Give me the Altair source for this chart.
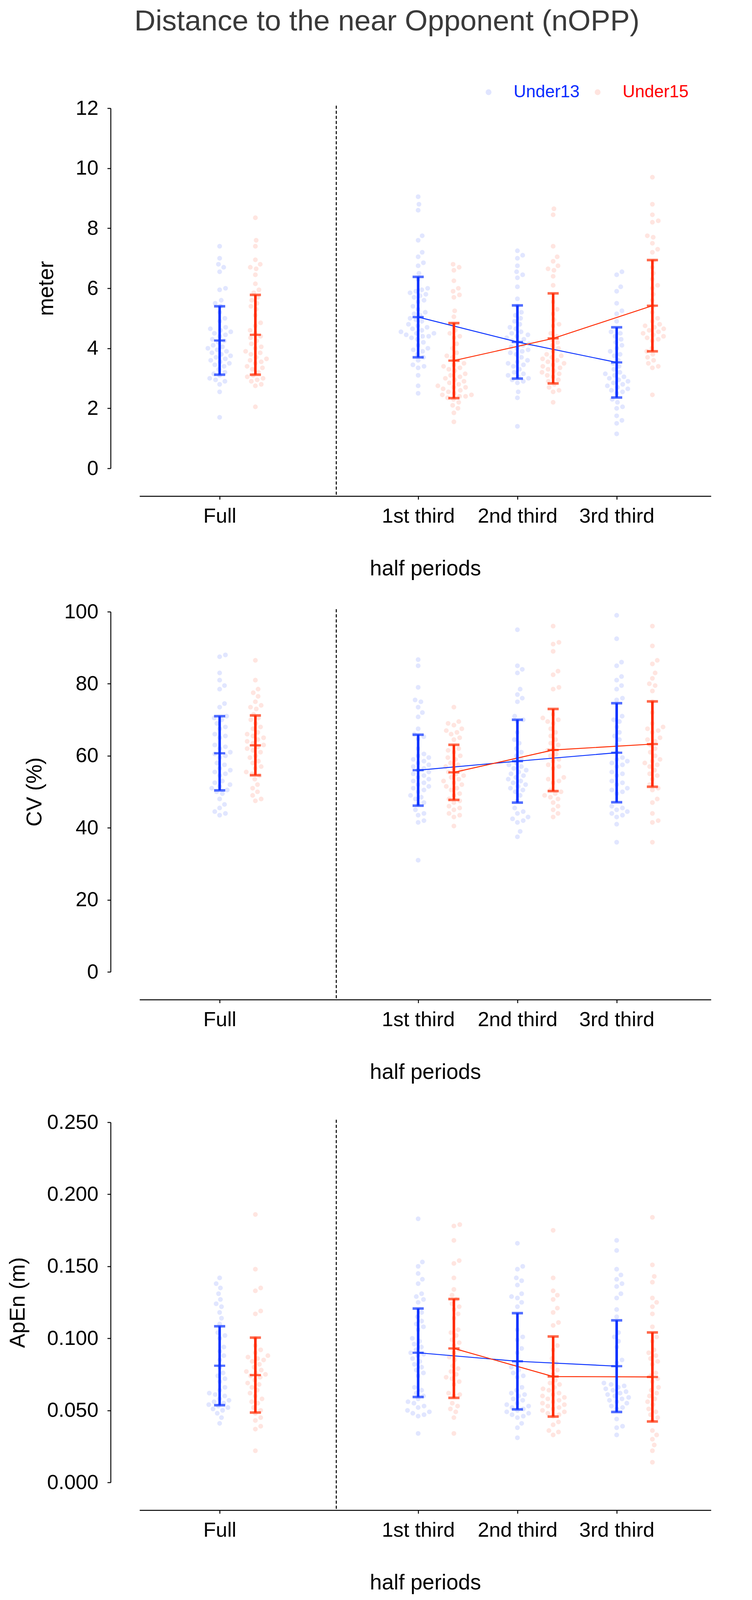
import math

import altair as alt
import pandas as pd

PERIODS = ["Full", "1st third", "2nd third", "3rd third"]
GROUPS = ["Under13", "Under15"]

# --- Distance to the near opponent (meter) ---
nopp_u13_full = [7.4, 7.0, 6.8, 6.7, 6.55, 6.0, 5.95, 5.6, 5.5, 5.4, 5.2, 5.0, 4.9, 4.7, 4.65, 4.6,
                 4.55, 4.5, 4.45, 4.4, 4.3, 4.25, 4.2, 4.1, 4.05, 4.0, 3.95, 3.9, 3.85, 3.8, 3.75,
                 3.7, 3.65, 3.6, 3.55, 3.5, 3.45, 3.4, 3.3, 3.2, 3.15, 3.1, 3.0, 2.95, 2.9, 2.8,
                 2.55, 1.7]
nopp_u13_t1 = [9.05, 8.8, 8.6, 7.75, 7.6, 7.2, 7.05, 6.85, 6.75, 6.5, 6.3, 6.0, 5.95, 5.9, 5.85,
               5.8, 5.75, 5.7, 5.6, 5.55, 5.4, 5.3, 5.2, 5.15, 5.1, 5.0, 4.95, 4.9, 4.8, 4.75, 4.7,
               4.65, 4.6, 4.55, 4.5, 4.5, 4.45, 4.4, 4.4, 4.35, 4.3, 4.2, 4.1, 4.0, 3.95, 3.9, 3.8,
               3.7, 3.6, 3.45, 3.4, 3.35, 3.1, 2.75, 2.5]
nopp_u13_t2 = [7.25, 7.1, 7.0, 6.75, 6.55, 6.45, 6.35, 6.05, 5.65, 5.4, 5.2, 5.1, 5.0, 4.9, 4.8,
               4.7, 4.65, 4.55, 4.5, 4.45, 4.4, 4.35, 4.3, 4.25, 4.2, 4.15, 4.1, 4.05, 4.0, 3.95,
               3.9, 3.85, 3.8, 3.7, 3.6, 3.55, 3.5, 3.45, 3.4, 3.3, 3.2, 3.15, 3.1, 3.05, 3.0,
               2.95, 2.9, 2.85, 2.55, 2.35, 1.4]
nopp_u13_t3 = [6.55, 6.45, 6.05, 5.9, 5.5, 5.25, 5.15, 4.9, 4.55, 4.5, 4.4, 4.3, 4.2, 4.1, 4.0,
               3.9, 3.8, 3.75, 3.6, 3.5, 3.4, 3.3, 3.2, 3.15, 3.1, 3.05, 3.0, 2.95, 2.9, 2.85,
               2.8, 2.75, 2.7, 2.65, 2.6, 2.55, 2.5, 2.3, 2.2, 2.05, 2.0, 1.75, 1.6, 1.5, 1.15]
nopp_u15_full = [8.35, 7.6, 7.4, 6.95, 6.8, 6.7, 6.65, 6.45, 6.15, 5.95, 5.85, 5.7, 5.6, 5.5, 5.4,
                 5.3, 5.1, 4.85, 4.75, 4.6, 4.5, 4.4, 4.35, 4.25, 4.15, 4.05, 4.0, 3.9, 3.85, 3.8,
                 3.7, 3.65, 3.6, 3.55, 3.5, 3.4, 3.35, 3.3, 3.2, 3.1, 3.05, 3.0, 2.95, 2.9, 2.8,
                 2.75, 2.05]
nopp_u15_t1 = [6.8, 6.7, 6.6, 6.25, 6.0, 5.9, 5.78, 5.7, 5.25, 5.05, 4.8, 4.6, 4.5, 4.4, 4.35,
               4.15, 4.0, 3.85, 3.75, 3.7, 3.6, 3.5, 3.45, 3.4, 3.35, 3.3, 3.25, 3.15, 3.1, 3.05,
               3.0, 2.95, 2.9, 2.85, 2.8, 2.75, 2.7, 2.7, 2.65, 2.6, 2.55, 2.5, 2.45, 2.45, 2.4,
               2.4, 2.35, 2.3, 2.2, 2.1, 2.0, 1.85, 1.55]
nopp_u15_t2 = [8.65, 8.45, 7.4, 7.05, 6.9, 6.75, 6.65, 6.6, 6.4, 6.1, 5.55, 5.3, 5.15, 4.95, 4.8,
               4.75, 4.5, 4.4, 4.3, 4.2, 4.1, 4.0, 3.9, 3.8, 3.75, 3.7, 3.65, 3.6, 3.55, 3.5,
               3.45, 3.4, 3.35, 3.3, 3.25, 3.2, 3.15, 3.1, 3.05, 2.95, 2.9, 2.8, 2.7, 2.6, 2.55,
               2.2]
nopp_u15_t3 = [9.7, 8.8, 8.45, 8.25, 8.2, 7.75, 7.7, 7.5, 7.3, 7.2, 6.9, 6.7, 6.5, 6.3, 6.1, 6.0,
               5.8, 5.6, 5.4, 5.2, 5.0, 4.9, 4.8, 4.75, 4.7, 4.65, 4.6, 4.55, 4.5, 4.45, 4.4,
               4.35, 4.3, 4.25, 4.0, 3.9, 3.8, 3.7, 3.6, 3.5, 3.4, 3.35, 2.45]
nopp_u13_mean = [4.26, 5.04, 4.21, 3.53]
nopp_u13_sd = [1.14, 1.34, 1.22, 1.17]
nopp_u15_mean = [4.45, 3.59, 4.33, 5.42]
nopp_u15_sd = [1.33, 1.25, 1.50, 1.52]

# --- Coefficient of variation (%) ---
cv_u13_full = [88.0, 87.5, 83.0, 81.0, 79.5, 78.5, 74.5, 73.5, 71.0, 70.5, 70.0, 69.0, 68.0, 67.5,
               66.0, 65.5, 65.0, 63.0, 62.5, 62.0, 61.0, 60.5, 60.0, 59.5, 58.0, 57.5, 56.5, 56.0,
               55.5, 55.0, 54.5, 53.0, 52.5, 52.0, 51.5, 51.0, 50.5, 50.0, 49.5, 48.0, 46.5,
               45.5, 44.5, 44.0, 43.5]
cv_u13_t1 = [86.7, 85.0, 79.0, 75.5, 75.0, 73.5, 72.0, 70.8, 67.5, 66.0, 65.3, 64.7, 62.0, 60.5,
             60.0, 59.5, 59.0, 58.5, 58.0, 57.5, 57.0, 56.5, 56.0, 55.5, 55.0, 54.5, 54.0, 53.5,
             53.0, 52.5, 52.0, 51.5, 51.0, 50.5, 50.0, 49.0, 48.5, 48.0, 47.0, 46.5, 45.0, 44.0,
             43.5, 42.0, 41.5, 31.0]
cv_u13_t2 = [95.0, 85.0, 84.0, 83.0, 78.5, 77.0, 76.0, 75.0, 71.0, 70.0, 69.5, 66.5, 64.5, 63.5,
             62.0, 61.0, 60.0, 59.0, 58.0, 57.5, 57.0, 56.5, 56.0, 55.5, 55.0, 54.5, 54.0, 53.5,
             53.0, 52.5, 52.0, 51.5, 51.0, 50.5, 50.0, 49.0, 47.5, 45.5, 44.5, 44.0, 43.0, 42.5,
             42.0, 41.5, 39.0, 37.5]
cv_u13_t3 = [99.0, 92.5, 86.0, 85.0, 82.0, 81.0, 79.5, 78.5, 76.0, 75.5, 71.0, 70.0, 69.5, 68.0,
             66.5, 65.5, 64.5, 63.0, 61.0, 59.5, 59.0, 58.5, 58.0, 57.5, 57.0, 55.5, 55.0, 54.5,
             53.0, 52.5, 52.0, 51.0, 50.5, 50.0, 49.5, 46.0, 45.5, 45.0, 44.5, 44.0, 43.5, 43.0,
             41.0, 36.0]
cv_u15_full = [86.5, 81.0, 78.5, 77.5, 76.5, 75.0, 74.0, 73.5, 73.0, 71.5, 70.5, 70.0, 69.0, 68.0,
               67.5, 66.5, 66.0, 65.5, 65.0, 64.5, 64.0, 63.5, 63.0, 62.5, 62.0, 61.5, 61.0, 60.0,
               59.5, 58.5, 58.0, 57.0, 56.5, 55.5, 55.0, 54.5, 53.5, 52.0, 51.0, 50.0, 49.0, 48.0,
               47.5]
cv_u15_t1 = [73.5, 69.5, 69.0, 68.5, 67.5, 67.0, 66.5, 66.0, 65.0, 64.5, 62.0, 61.5, 61.0, 60.0,
             59.5, 59.0, 58.0, 57.5, 57.0, 56.5, 56.0, 55.5, 55.0, 54.5, 54.0, 53.5, 53.0, 52.5,
             52.0, 51.5, 51.0, 50.5, 49.5, 49.0, 48.0, 47.5, 47.0, 46.0, 45.5, 45.0, 44.0, 43.5,
             43.0, 40.5]
cv_u15_t2 = [96.0, 91.5, 91.0, 89.0, 83.5, 82.5, 79.0, 78.5, 71.5, 70.5, 70.0, 69.5, 69.0, 67.5,
             66.5, 65.5, 64.5, 63.5, 63.0, 62.0, 61.5, 60.5, 60.0, 59.0, 58.5, 57.5, 57.0, 56.5,
             54.0, 53.5, 53.0, 52.5, 50.5, 50.0, 49.5, 49.0, 48.5, 48.0, 47.0, 46.0, 45.0, 44.0,
             43.0]
cv_u15_t3 = [96.0, 90.5, 86.5, 85.5, 83.0, 81.5, 80.0, 79.5, 78.0, 75.0, 72.0, 69.0, 68.0, 67.5,
             67.0, 66.5, 65.0, 64.5, 64.0, 63.0, 62.0, 61.0, 60.0, 59.0, 58.5, 58.0, 57.5, 57.0,
             56.0, 55.0, 54.5, 53.5, 52.0, 51.0, 50.5, 48.0, 47.0, 44.0, 42.0, 41.5, 36.0]
cv_u13_mean = [60.7, 56.0, 58.5, 60.85]
cv_u13_sd = [10.3, 9.85, 11.5, 13.75]
cv_u15_mean = [62.9, 55.4, 61.6, 63.25]
cv_u15_sd = [8.3, 7.65, 11.4, 11.85]

# --- Approximate entropy (m) ---
apen_u13_full = [0.142, 0.138, 0.135, 0.131, 0.127, 0.124, 0.122, 0.118, 0.114, 0.110, 0.104,
                 0.102, 0.100, 0.094, 0.091, 0.088, 0.085, 0.080, 0.076, 0.074, 0.072, 0.070,
                 0.066, 0.064, 0.062, 0.061, 0.060, 0.058, 0.057, 0.056, 0.055, 0.054, 0.053,
                 0.052, 0.051, 0.050, 0.048, 0.045, 0.041]
apen_u13_t1 = [0.183, 0.153, 0.150, 0.145, 0.141, 0.138, 0.131, 0.129, 0.127, 0.125, 0.118, 0.115,
               0.112, 0.110, 0.108, 0.106, 0.100, 0.098, 0.096, 0.094, 0.092, 0.090, 0.089, 0.088,
               0.086, 0.084, 0.082, 0.080, 0.078, 0.076, 0.074, 0.066, 0.064, 0.062, 0.060, 0.058,
               0.056, 0.055, 0.053, 0.052, 0.050, 0.049, 0.048, 0.047, 0.046, 0.034]
apen_u13_t2 = [0.166, 0.150, 0.148, 0.142, 0.140, 0.137, 0.131, 0.129, 0.128, 0.125, 0.122, 0.106,
               0.101, 0.099, 0.093, 0.090, 0.082, 0.080, 0.078, 0.076, 0.074, 0.073, 0.066, 0.064,
               0.062, 0.061, 0.060, 0.058, 0.057, 0.055, 0.054, 0.053, 0.052, 0.051, 0.050, 0.049,
               0.048, 0.047, 0.046, 0.045, 0.041, 0.038, 0.031]
apen_u13_t3 = [0.168, 0.161, 0.148, 0.144, 0.141, 0.138, 0.136, 0.131, 0.128, 0.120, 0.115, 0.104,
               0.101, 0.098, 0.094, 0.085, 0.083, 0.069, 0.068, 0.067, 0.066, 0.065, 0.064, 0.063,
               0.062, 0.061, 0.060, 0.059, 0.058, 0.057, 0.056, 0.055, 0.053, 0.052, 0.051, 0.044,
               0.039, 0.038, 0.033]
apen_u15_full = [0.186, 0.148, 0.135, 0.133, 0.119, 0.117, 0.100, 0.095, 0.092, 0.090, 0.088,
                 0.087, 0.086, 0.085, 0.084, 0.082, 0.080, 0.078, 0.077, 0.076, 0.075, 0.074,
                 0.073, 0.071, 0.069, 0.068, 0.066, 0.064, 0.062, 0.060, 0.058, 0.056, 0.055,
                 0.052, 0.050, 0.048, 0.045, 0.043, 0.039, 0.037, 0.022]
apen_u15_t1 = [0.179, 0.178, 0.168, 0.154, 0.152, 0.142, 0.134, 0.130, 0.127, 0.124, 0.122, 0.120,
               0.117, 0.114, 0.106, 0.104, 0.102, 0.099, 0.097, 0.095, 0.092, 0.090, 0.087, 0.085,
               0.081, 0.079, 0.077, 0.075, 0.073, 0.072, 0.070, 0.068, 0.062, 0.061, 0.060, 0.055,
               0.053, 0.051, 0.049, 0.045, 0.034]
apen_u15_t2 = [0.175, 0.142, 0.133, 0.130, 0.127, 0.121, 0.118, 0.111, 0.109, 0.095, 0.092, 0.086,
               0.083, 0.080, 0.078, 0.075, 0.071, 0.069, 0.068, 0.066, 0.065, 0.064, 0.062, 0.061,
               0.060, 0.059, 0.058, 0.057, 0.056, 0.055, 0.054, 0.053, 0.052, 0.051, 0.050, 0.049,
               0.048, 0.047, 0.046, 0.042, 0.040, 0.036, 0.035, 0.033]
apen_u15_t3 = [0.184, 0.151, 0.143, 0.139, 0.128, 0.125, 0.122, 0.117, 0.108, 0.101, 0.098, 0.092,
               0.090, 0.088, 0.086, 0.084, 0.082, 0.076, 0.074, 0.072, 0.070, 0.066, 0.064, 0.062,
               0.060, 0.058, 0.056, 0.054, 0.051, 0.049, 0.047, 0.045, 0.043, 0.036, 0.033, 0.030,
               0.026, 0.022, 0.014]
apen_u13_mean = [0.081, 0.090, 0.0841, 0.0807]
apen_u13_sd = [0.0274, 0.0307, 0.0334, 0.0318]
apen_u15_mean = [0.0745, 0.093, 0.0735, 0.0732]
apen_u15_sd = [0.026, 0.0343, 0.0278, 0.0309]

# layout
X_DOMAIN = [-0.807, 4.95]
WIDTH = 1462
HEIGHT = 922
SLOT = {"Full": 0, "1st third": 2, "2nd third": 3, "3rd third": 4}
GROUP_SHIFT = {"Under13": 0.0, "Under15": 0.36}
SEP_X = 1.175
DOT = 15.5
FONT = "Liberation Sans"
BLUE = "#0a32ff"
RED = "#ff2a00"


def swarm(values, px_per_unit, diam=DOT):
    # beeswarm: each point goes as close to the centre as it can without overlapping
    order = sorted(range(len(values)), key=lambda i: values[i])
    placed = []
    out = [0.0] * len(values)
    for i in order:
        y = values[i] * px_per_unit
        near = [(px, py) for px, py in placed if abs(py - y) < diam]
        cands = [0.0]
        for px, py in near:
            d = math.sqrt(diam ** 2 - (py - y) ** 2)
            cands += [px + d, px - d]
        cands.sort(key=abs)
        for c in cands:
            if all((c - px) ** 2 + (y - py) ** 2 >= diam ** 2 - 1e-6 for px, py in near):
                out[i] = c
                break
        placed.append((out[i], y))
    return out


def frames(samples, means, sds, ydomain):
    y_px = HEIGHT / (ydomain[1] - ydomain[0])
    x_px = WIDTH / (X_DOMAIN[1] - X_DOMAIN[0])
    pts, stats = [], []
    for group in GROUPS:
        for k, period in enumerate(PERIODS):
            base = SLOT[period] + GROUP_SHIFT[group]
            vals = samples[group][k]
            for v, off in zip(vals, swarm(vals, y_px)):
                pts.append({"period": period, "group": group, "value": v, "x": base + off / x_px})
            m, s = means[group][k], sds[group][k]
            stats.append({"period": period, "group": group, "x": base,
                          "mean": m, "lo": m - s, "hi": m + s})
    return pd.DataFrame(pts), pd.DataFrame(stats)


label_expr = " : ".join(f"datum.value == {SLOT[p]} ? '{p}'" for p in PERIODS[:-1]) + f" : '{PERIODS[-1]}'"

X_AXIS = alt.Axis(values=[SLOT[p] for p in PERIODS], labelExpr=label_expr, title="half periods",
                  offset=71, grid=False, tickSize=8.5, tickWidth=2.4, tickColor="black",
                  domainWidth=2.4, domainColor="black", labelFontSize=52.5, labelColor="black",
                  labelPadding=18, labelFont=FONT, labelFlush=False, labelLimit=0,
                  titleFont=FONT, titleFontSize=55, titleFontWeight="normal", titleColor="black",
                  titlePadding=81)

COLOR_SCALE = alt.Scale(domain=GROUPS, range=[BLUE, RED])


def panel(samples, means, sds, ydomain, yticks, yfmt, ytitle, legend=None, title=None):
    pts, stats = frames(samples, means, sds, ydomain)
    y_axis = alt.Axis(values=yticks, format=yfmt, title=ytitle, offset=74, grid=False,
                      tickSize=8.5, tickWidth=2.4, tickColor="black", domainWidth=2.4,
                      domainColor="black", labelFontSize=52.5, labelColor="black", labelPadding=23,
                      labelFont=FONT, labelLimit=0, titleFont=FONT, titleFontSize=55,
                      titleFontWeight="normal", titleColor="black", titlePadding=46)
    x_scale = alt.Scale(domain=X_DOMAIN, nice=False, zero=False)
    y_scale = alt.Scale(domain=ydomain, nice=False, zero=False)

    def xq(field="x"):
        return alt.X(f"{field}:Q", scale=x_scale, axis=X_AXIS)

    def yq(field):
        return alt.Y(f"{field}:Q", scale=y_scale, axis=y_axis)

    line_color = alt.Color("group:N", scale=COLOR_SCALE, legend=None)

    sep = alt.Chart(pd.DataFrame({"sep": [SEP_X]})).mark_rule(
        color="black", strokeWidth=2.6, strokeDash=[8, 5]
    ).encode(x=xq("sep"), y=alt.value(-6.5), y2=alt.value(HEIGHT + 70))

    dots = alt.Chart(pts).mark_circle(size=150, opacity=0.12).encode(
        x=xq(), y=yq("value"),
        color=alt.Color("group:N", scale=COLOR_SCALE, legend=legend)
    )
    trend = alt.Chart(stats[stats["period"] != "Full"]).mark_line(strokeWidth=2.4).encode(
        x=xq(), y=yq("mean"), color=line_color, detail="group:N"
    )
    bars = alt.Chart(stats).mark_rule(strokeWidth=6.5).encode(
        x=xq(), y=yq("lo"), y2="hi:Q", color=line_color
    )
    caps_lo = alt.Chart(stats).mark_tick(orient="horizontal", size=28.5, thickness=6.5).encode(
        x=xq(), y=yq("lo"), color=line_color
    )
    caps_hi = alt.Chart(stats).mark_tick(orient="horizontal", size=28.5, thickness=6.5).encode(
        x=xq(), y=yq("hi"), color=line_color
    )
    mids = alt.Chart(stats).mark_tick(orient="horizontal", size=28.5, thickness=5.7).encode(
        x=xq(), y=yq("mean"), color=line_color
    )
    chart = alt.layer(sep, dots, trend, bars, caps_lo, caps_hi, mids).properties(
        width=WIDTH, height=HEIGHT
    )
    if title is not None:
        chart = chart.properties(title=title)
    return chart


legend = alt.Legend(title=None, orient="none", legendX=871, legendY=-63, direction="horizontal",
                    labelFontSize=44, labelFont=FONT, symbolSize=180, symbolType="circle",
                    labelOffset=42, columnPadding=24, padding=0, labelLimit=0,
                    labelColor={"expr": "datum.value == 'Under13' ? '#0a2cff' : '#ff0000'"})

title = alt.TitleParams("Distance to the near Opponent (nOPP)", font=FONT, fontSize=75,
                        fontWeight="normal", color="#3a3a3a", anchor="middle", dx=-98, offset=120)

top = panel(
    {"Under13": [nopp_u13_full, nopp_u13_t1, nopp_u13_t2, nopp_u13_t3],
     "Under15": [nopp_u15_full, nopp_u15_t1, nopp_u15_t2, nopp_u15_t3]},
    {"Under13": nopp_u13_mean, "Under15": nopp_u15_mean},
    {"Under13": nopp_u13_sd, "Under15": nopp_u15_sd},
    [0, 12], list(range(0, 13, 2)), "d", "meter", legend=legend, title=title,
)
middle = panel(
    {"Under13": [cv_u13_full, cv_u13_t1, cv_u13_t2, cv_u13_t3],
     "Under15": [cv_u15_full, cv_u15_t1, cv_u15_t2, cv_u15_t3]},
    {"Under13": cv_u13_mean, "Under15": cv_u15_mean},
    {"Under13": cv_u13_sd, "Under15": cv_u15_sd},
    [0, 100], list(range(0, 101, 20)), "d", "CV (%)",
)
bottom = panel(
    {"Under13": [apen_u13_full, apen_u13_t1, apen_u13_t2, apen_u13_t3],
     "Under15": [apen_u15_full, apen_u15_t1, apen_u15_t2, apen_u15_t3]},
    {"Under13": apen_u13_mean, "Under15": apen_u15_mean},
    {"Under13": apen_u13_sd, "Under15": apen_u15_sd},
    [0, 0.25], [0, 0.05, 0.1, 0.15, 0.2, 0.25], ".3f", "ApEn (m)",
)

upper = alt.vconcat(top, middle, spacing=57).resolve_scale(color="independent")
chart = alt.vconcat(upper, bottom, spacing=75).resolve_scale(
    color="independent"
).configure(
    font=FONT, padding={"left": 10, "top": 10, "right": 5, "bottom": 5}, background="white"
).configure_view(stroke=None)

chart.save("out.html", embed_options={"renderer": "svg", "actions": False})
